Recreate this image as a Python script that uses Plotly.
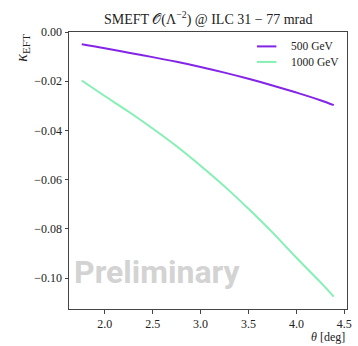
import plotly.graph_objects as go

# ---- data ----
theta_deg = [1.76, 2.0, 2.25, 2.5, 2.75, 3.0, 3.25, 3.5, 3.75, 4.0, 4.25, 4.39]
kappa_500 = [-0.0050, -0.0066, -0.0084, -0.0102, -0.0121, -0.0142, -0.0165,
             -0.0190, -0.0217, -0.0246, -0.0277, -0.0297]
kappa_1000 = [-0.0197, -0.0260, -0.0324, -0.0392, -0.0464, -0.0543, -0.0627,
              -0.0718, -0.0814, -0.0917, -0.1016, -0.1075]
series_names = ["500 GeV", "1000 GeV"]
series_colors = ["#8424e6", "#84f0b4"]
x_ticks = [2.0, 2.5, 3.0, 3.5, 4.0, 4.5]
y_ticks = [0.00, -0.02, -0.04, -0.06, -0.08, -0.10]

SERIF = "Liberation Serif"
TICK_SERIF = "Liberation Serif"

fig = go.Figure()
for ys, name, col in zip([kappa_500, kappa_1000], series_names, series_colors):
    fig.add_trace(go.Scatter(x=theta_deg, y=ys, mode="lines", name=name,
                             line=dict(color=col, width=2, shape="spline", smoothing=1),
                             showlegend=False))

axis_common = dict(showline=True, linecolor="#444", linewidth=1, mirror=True,
                   ticks="outside", ticklen=3.5, tickwidth=1, tickcolor="#444",
                   showgrid=False, zeroline=False)

fig.update_xaxes(range=[1.627, 4.528], tickvals=x_ticks,
                 ticktext=[f"{v:.1f}" for v in x_ticks], **axis_common)
fig.update_yaxes(range=[-0.1125, 0.0], tickvals=y_ticks,
                 ticktext=[("−" if v < 0 else "") + f"{abs(v):.2f}" for v in y_ticks],
                 **axis_common)

annotations = [
    dict(text="SMEFT 𝒪(Λ<sup>−2</sup>) @ ILC 31 − 77 mrad", x=0.5, y=1.0,
         xref="paper", yref="paper", xanchor="center", yanchor="bottom", yshift=2,
         showarrow=False, font=dict(family=SERIF, size=14, color="#222")),
    dict(text="<i>κ</i><sub>EFT</sub>", x=-0.17, y=1.0, xref="paper", yref="paper",
         xanchor="center", yanchor="top", textangle=-90, showarrow=False,
         font=dict(family=SERIF, size=16, color="#222")),
    dict(text="<i>θ</i> [deg]", x=1.0, y=-0.101, xref="paper", yref="paper",
         xanchor="right", yanchor="middle", showarrow=False,
         font=dict(family=SERIF, size=12, color="#222")),
    dict(text="<b>Preliminary</b>", x=0.318, y=0.135, xref="paper", yref="paper",
         xanchor="center", yanchor="middle", showarrow=False,
         font=dict(family="Roboto", size=32, color="#d3d3d3")),
]

shapes = []
leg_y = [0.948, 0.892]
for i, (name, col) in enumerate(zip(series_names, series_colors)):
    shapes.append(dict(type="line", xref="paper", yref="paper",
                       x0=0.676, x1=0.746, y0=leg_y[i], y1=leg_y[i],
                       line=dict(color=col, width=2)))
    annotations.append(dict(text=name, x=0.792, y=leg_y[i], xref="paper", yref="paper",
                            xanchor="left", yanchor="middle", showarrow=False,
                            font=dict(family=SERIF, size=11.5, color="#222")))

fig.update_layout(width=358, height=346, margin=dict(l=69, r=6, t=32, b=37),
                  font=dict(family=TICK_SERIF, size=12, color="#222"),
                  paper_bgcolor="white", plot_bgcolor="white",
                  annotations=annotations, shapes=shapes)

fig.write_html("out.html")
